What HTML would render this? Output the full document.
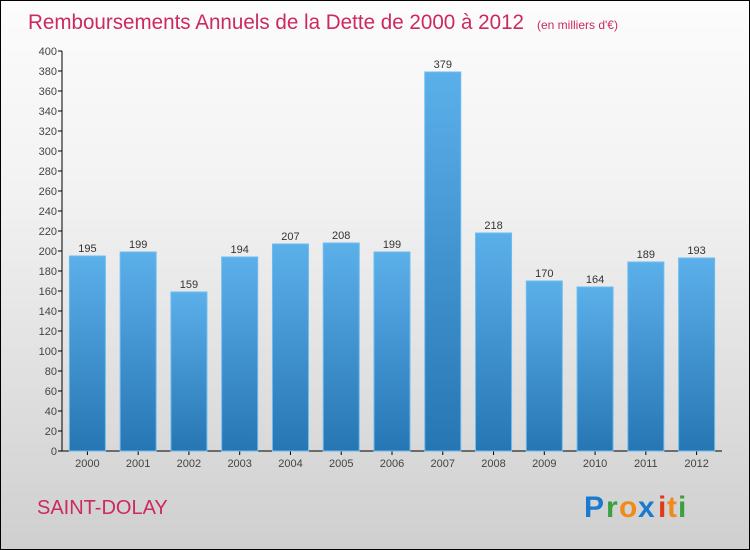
<!DOCTYPE html>
<html><head><meta charset="utf-8"><style>
body{margin:0;}
#wrap{position:relative;width:750px;height:550px;box-sizing:border-box;border:1px solid #000;background:linear-gradient(#fcfcfc,#f2f2f2 35%,#cfcfcf);font-family:"Liberation Sans",sans-serif;overflow:hidden}
svg text{font-family:"Liberation Sans",sans-serif}
</style></head><body>
<div id="wrap">
<svg width="750" height="550">
<defs>
<linearGradient id="bg" x1="0" y1="0" x2="0" y2="1"><stop offset="0" stop-color="#5cb0ea"/><stop offset="1" stop-color="#2676b4"/></linearGradient>
</defs>
<text x="27" y="28" font-size="21" fill="#cc2a5e" textLength="496" lengthAdjust="spacingAndGlyphs">Remboursements Annuels de la Dette de 2000 à 2012</text>
<text x="536" y="28" font-size="12" fill="#cc2a5e">(en milliers d'€)</text>
<g id="axes"></g>
<g id="bars"></g>
<text x="36" y="513" font-size="20" fill="#cc2a5e">SAINT-DOLAY</text>
<g font-size="30" font-weight="bold">
<text x="583" y="516" fill="#1a7ad0">P</text><text x="605" y="516" fill="#3aa040">r</text><text x="618" y="516" fill="#f08a1a">o</text><text x="637" y="516" fill="#1a7ad0">x</text><text x="657" y="516" fill="#e03a1a">i</text><text x="666" y="516" fill="#f08a1a">t</text><text x="677" y="516" fill="#3aa040">i</text>
</g>
</svg>
</div>
<script>
const years=["2000","2001","2002","2003","2004","2005","2006","2007","2008","2009","2010","2011","2012"];
const values=[195,199,159,194,207,208,199,379,218,170,164,189,193];
const yTicks=[0,20,40,60,80,100,120,140,160,180,200,220,240,260,280,300,320,340,360,380,400];
const NS="http://www.w3.org/2000/svg";
const y0=450,y1=50,yMax=400,x0=61,x1=721;
function yScale(v){return y0-(v/yMax)*(y0-y1);}
function xScale(i){const step=(x1-x0)/years.length;return x0+step*(i+0.5);}
function mk(t,a,p){const e=document.createElementNS(NS,t);for(const k in a)e.setAttribute(k,a[k]);p.appendChild(e);return e;}
const ax=document.getElementById('axes'),bg=document.getElementById('bars');
const yl=mk('line',{x1:x0,y1:y1,x2:x0,y2:y0,stroke:'#000'},ax);


const xl=mk('line',{x1:x0,y1:y0,x2:x1,y2:y0,stroke:'#000'},ax);


yTicks.forEach(v=>{const y=yScale(v);
mk('line',{x1:x0-4,y1:y,x2:x0,y2:y,stroke:'#000'},ax);
const t=mk('text',{x:x0-5,y:y+4,'font-size':11,'text-anchor':'end',fill:'#444'},ax);t.textContent=v;

});
const bw=36;
years.forEach((yr,i)=>{const cx=xScale(i),v=values[i],y=yScale(v);
const r=mk('rect',{x:cx-bw/2,y:y,width:bw,height:y0-y,fill:'url(#bg)',stroke:'#6cbcf0','stroke-width':1},bg);


const l=mk('text',{x:cx,y:y-4,'font-size':11,'text-anchor':'middle',fill:'#333'},bg);l.textContent=v;


mk('line',{x1:cx,y1:y0,x2:cx,y2:y0+4,stroke:'#000'},ax);
const xt=mk('text',{x:cx,y:y0+16,'font-size':11,'text-anchor':'middle',fill:'#444'},ax);xt.textContent=yr;

});
</script>
</body></html>
